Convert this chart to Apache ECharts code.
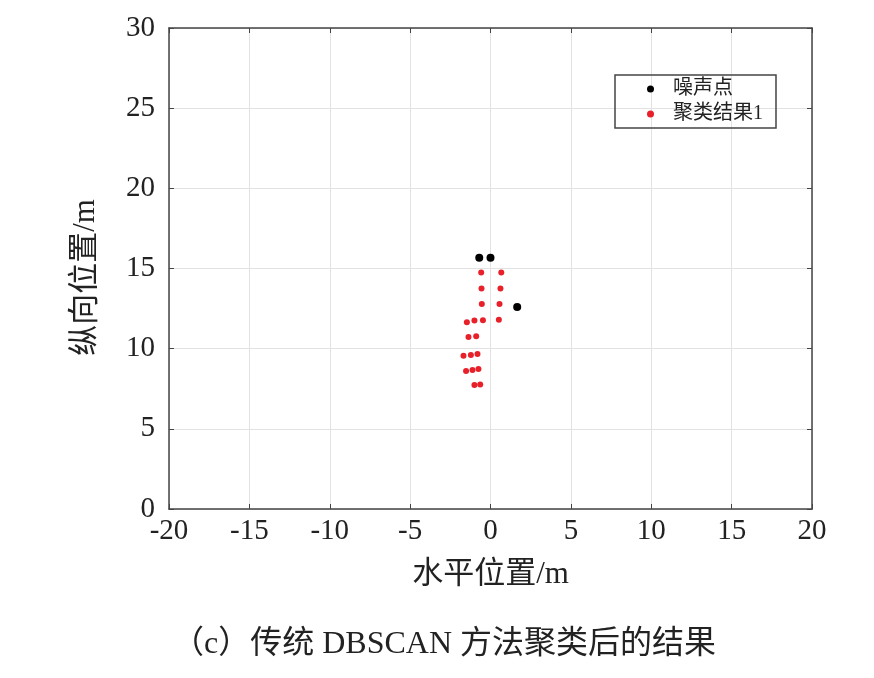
<!DOCTYPE html>
<html>
<head>
<meta charset="utf-8">
<script src="https://cdn.jsdelivr.net/npm/echarts@6/dist/echarts.min.js"></script>
<style>
html,body{margin:0;padding:0;background:#fff;}
#chart{width:874px;height:678px;}
</style>
</head>
<body>
<div id="chart"></div>
<script>
// 噪声点
var noiseX = [-0.70, 0.00, 1.66];
var noiseY = [15.67, 15.67, 12.60];
// 聚类结果1
var clusterX = [-0.58, 0.67, -0.56, 0.62, -0.54, 0.56, -1.47, -1.00, -0.47, 0.52,
                -1.37, -0.89, -1.68, -1.22, -0.81, -1.52, -1.12, -0.75, -1.00, -0.64];
var clusterY = [14.75, 14.75, 13.75, 13.75, 12.79, 12.79, 11.65, 11.75, 11.78, 11.80,
                10.73, 10.78, 9.56, 9.60, 9.67, 8.60, 8.67, 8.73, 7.73, 7.77];
var xTicks = [-20, -15, -10, -5, 0, 5, 10, 15, 20];
var yTicks = [0, 5, 10, 15, 20, 25, 30];

function pairs(xs, ys) {
    var out = [];
    for (var i = 0; i < xs.length; i++) {
        out.push([xs[i], ys[i]]);
    }
    return out;
}

var serif = '"Liberation Serif", "Noto Sans CJK SC", serif';
var frame = {show: true, onZero: false, lineStyle: {color: '#444', width: 1.5}};
var tick = {show: true, inside: true, length: 5, lineStyle: {color: '#444'}};

var chart = echarts.init(document.getElementById('chart'));
var option = {
    animation: false,
    title: {
        text: '（c）传统 DBSCAN 方法聚类后的结果',
        left: 167,
        top: 624,
        textStyle: {fontFamily: serif, fontSize: 32, fontWeight: 'normal', color: '#222'}
    },
    legend: {
        left: 615,
        top: 75,
        orient: 'vertical',
        itemWidth: 7,
        itemHeight: 7,
        itemGap: 5,
        padding: [4, 13, 4, 32],
        borderColor: '#444',
        borderWidth: 1.5,
        textStyle: {fontFamily: serif, fontSize: 20, color: '#222', padding: [0, 0, 0, 14]},
        data: [{name: '噪声点', icon: 'circle'}, {name: '聚类结果1', icon: 'circle'}]
    },
    grid: {left: 169, right: 62, top: 28, bottom: 169},
    xAxis: [{
        type: 'value',
        min: xTicks[0],
        max: xTicks[xTicks.length - 1],
        interval: 5,
        name: '水平位置/m',
        nameLocation: 'middle',
        nameGap: 50,
        nameTextStyle: {fontFamily: serif, fontSize: 31, color: '#222'},
        axisLine: frame,
        axisTick: tick,
        axisLabel: {fontFamily: serif, fontSize: 29, color: '#222', margin: 8},
        splitLine: {show: true, lineStyle: {color: '#e2e2e2', width: 1}}
    }, {
        type: 'value',
        position: 'top',
        min: xTicks[0],
        max: xTicks[xTicks.length - 1],
        interval: 5,
        axisLine: frame,
        axisTick: tick,
        axisLabel: {show: false},
        splitLine: {show: false}
    }],
    yAxis: [{
        type: 'value',
        min: yTicks[0],
        max: yTicks[yTicks.length - 1],
        interval: 5,
        name: '纵向位置/m',
        nameLocation: 'middle',
        nameGap: 68,
        nameTextStyle: {fontFamily: serif, fontSize: 31, color: '#222', padding: [0, 18, 0, 0]},
        axisLine: frame,
        axisTick: tick,
        axisLabel: {fontFamily: serif, fontSize: 29, color: '#222', margin: 14},
        splitLine: {show: true, lineStyle: {color: '#e2e2e2', width: 1}}
    }, {
        type: 'value',
        position: 'right',
        min: yTicks[0],
        max: yTicks[yTicks.length - 1],
        interval: 5,
        axisLine: frame,
        axisTick: tick,
        axisLabel: {show: false},
        splitLine: {show: false}
    }],
    series: [{
        name: '噪声点',
        type: 'scatter',
        symbolSize: 8,
        itemStyle: {color: '#000', opacity: 1},
        data: pairs(noiseX, noiseY)
    }, {
        name: '聚类结果1',
        type: 'scatter',
        symbolSize: 6,
        itemStyle: {color: '#e8202a', opacity: 1},
        data: pairs(clusterX, clusterY)
    }]
};
chart.setOption(option);
</script>
</body>
</html>
